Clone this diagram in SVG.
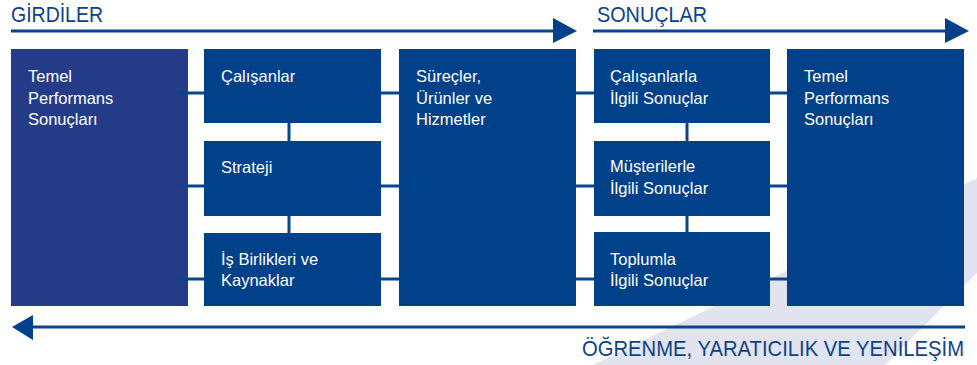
<svg xmlns="http://www.w3.org/2000/svg" width="977" height="365" viewBox="0 0 977 365">
<style>
.box{fill:#00418a}
.box1{fill:#243b87}
.t{font-family:"Liberation Sans",Arial,sans-serif;font-size:16.5px;fill:#ffffff}
.h{font-family:"Liberation Sans",Arial,sans-serif;font-size:22px;fill:#0d4289}
.ln{stroke:#07458f;stroke-width:3;fill:none}
.ar{fill:#00418a}
</style>
<rect width="977" height="365" fill="#ffffff"/>
<polygon points="593,365 977,178 977,273 885,365" fill="#e1e3ef"/>
<g id="arrows">
<line class="ln" x1="11" y1="31" x2="556" y2="31"/>
<polygon class="ar" points="553,18 577,31 553,43"/>
<line class="ln" x1="593" y1="31" x2="948" y2="31"/>
<polygon class="ar" points="945,18 969,31 945,43"/>
<line class="ln" x1="30" y1="327" x2="965" y2="327"/>
<polygon class="ar" points="12,327 33,315 33,340"/>
</g>
<g id="headings">
<text class="h" x="11" y="22" textLength="92" lengthAdjust="spacingAndGlyphs">GİRDİLER</text>
<text class="h" x="597" y="22" textLength="110" lengthAdjust="spacingAndGlyphs">SONUÇLAR</text>
<text class="h" x="582" y="356" textLength="382" lengthAdjust="spacingAndGlyphs">ÖĞRENME, YARATICILIK VE YENİLEŞİM</text>
</g>
<g id="n-temel-left">
<rect class="box1" x="11" y="49" width="177" height="257"/>
<text class="t" x="28" y="82">Temel</text>
<text class="t" x="28" y="104">Performans</text>
<text class="t" x="28" y="125">Sonuçları</text>
</g>
<g id="connectors">
<line class="ln" x1="178" y1="93" x2="787" y2="93"/>
<line class="ln" x1="178" y1="186" x2="787" y2="186"/>
<line class="ln" x1="178" y1="279" x2="787" y2="279"/>
<line class="ln" x1="289" y1="123" x2="289" y2="141"/>
<line class="ln" x1="289" y1="216" x2="289" y2="233"/>
<line class="ln" x1="687" y1="123" x2="687" y2="141"/>
<line class="ln" x1="687" y1="216" x2="687" y2="233"/>
</g>
<g id="n-calisanlar">
<rect class="box" x="204" y="49" width="177" height="74"/>
<text class="t" x="221" y="82">Çalışanlar</text>
</g>
<g id="n-strateji">
<rect class="box" x="204" y="141" width="177" height="75"/>
<text class="t" x="221" y="173">Strateji</text>
</g>
<g id="n-isbirlikleri">
<rect class="box" x="204" y="233" width="177" height="73"/>
<text class="t" x="221" y="265">İş Birlikleri ve</text>
<text class="t" x="221" y="286">Kaynaklar</text>
</g>
<g id="n-surecler">
<rect class="box" x="399" y="49" width="177" height="257"/>
<text class="t" x="416" y="82">Süreçler,</text>
<text class="t" x="416" y="104">Ürünler ve</text>
<text class="t" x="416" y="125">Hizmetler</text>
</g>
<g id="n-calisanlarla">
<rect class="box" x="594" y="49" width="176" height="74"/>
<text class="t" x="610" y="82">Çalışanlarla</text>
<text class="t" x="610" y="104">İlgili Sonuçlar</text>
</g>
<g id="n-musterilerle">
<rect class="box" x="594" y="141" width="176" height="75"/>
<text class="t" x="610" y="172">Müşterilerle</text>
<text class="t" x="610" y="194">İlgili Sonuçlar</text>
</g>
<g id="n-toplumla">
<rect class="box" x="594" y="232" width="176" height="74"/>
<text class="t" x="610" y="265">Toplumla</text>
<text class="t" x="610" y="286">İlgili Sonuçlar</text>
</g>
<g id="n-temel-right">
<rect class="box" x="787" y="49" width="177" height="257"/>
<text class="t" x="804" y="82">Temel</text>
<text class="t" x="804" y="104">Performans</text>
<text class="t" x="804" y="125">Sonuçları</text>
</g>
</svg>
